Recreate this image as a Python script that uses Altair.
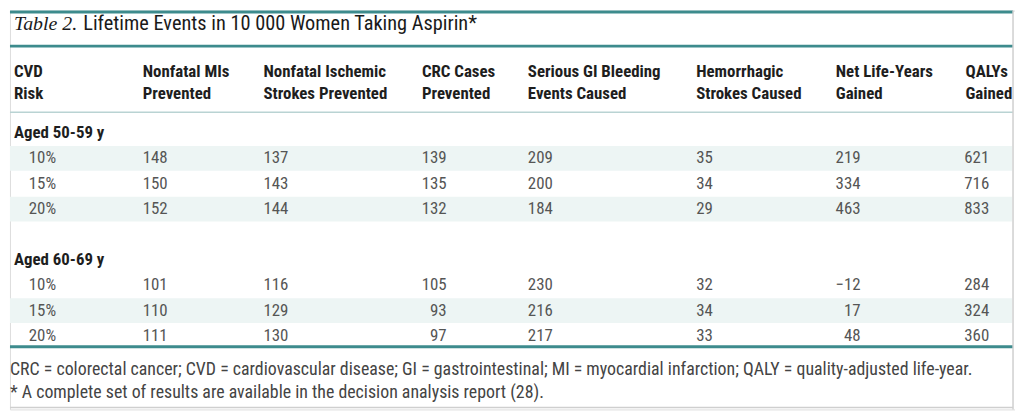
import altair as alt
import pandas as pd

# ---------------- data ----------------
title_prefix = "Table 2."
title_text = "Lifetime Events in 10 000 Women Taking Aspirin*"
headers_line1 = ["CVD", "Nonfatal MIs", "Nonfatal Ischemic", "CRC Cases", "Serious GI Bleeding",
                 "Hemorrhagic", "Net Life-Years", "QALYs"]
headers_line2 = ["Risk", "Prevented", "Strokes Prevented", "Prevented", "Events Caused",
                 "Strokes Caused", "Gained", "Gained"]
age_groups = ["Aged 50-59 y", "Aged 60-69 y"]
cvd_risk = ["10%", "15%", "20%"]
nonfatal_mi = [148, 150, 152, 101, 110, 111]
ischemic_strokes = [137, 143, 144, 116, 129, 130]
crc_cases = [139, 135, 132, 105, 93, 97]
gi_bleeding = [209, 200, 184, 230, 216, 217]
hemorrhagic = [35, 34, 29, 32, 34, 33]
net_life_years = [219, 334, 463, -12, 17, 48]
qalys = [621, 716, 833, 284, 324, 360]
footnotes = [
    "CRC = colorectal cancer; CVD = cardiovascular disease; GI = gastrointestinal; MI = myocardial infarction; QALY = quality-adjusted life-year.",
    "* A complete set of results are available in the decision analysis report (28).",
]

# ---------------- layout (reference pixel units) ----------------
X0, X1, Y0, Y1 = 8, 1023, 8, 412
col_x = [12, 142, 264, 424, 531, 701, 842, 973]        # header left edges
val_x = [27, 142, 264, 449, 531, 701, 867, 997]        # value anchors
val_align = ["left", "left", "left", "right", "left", "left", "right", "right"]
title_y = 22
header_y = [70, 93]
body_top, body_pitch = 132, 25.7
foot_y = [372, 395]
TEAL = "#3d8b8d"
SHADE = "#edf5f4"
SANS = "Liberation Sans Narrow, Roboto Condensed, Liberation Sans"

def row_y(i):
    return body_top + body_pitch * i

series = [nonfatal_mi, ischemic_strokes, crc_cases, gi_bleeding, hemorrhagic, net_life_years, qalys]

def fmt(v):
    return ("\u2212" + str(-v)) if v < 0 else str(v)

cells = []
groups_rows = []
for g, name in enumerate(age_groups):
    base = g * 5
    groups_rows.append({"x": col_x[0], "y": row_y(base), "text": name})
    for r, risk in enumerate(cvd_risk):
        k = g * 3 + r
        yy = row_y(base + 1 + r)
        cells.append({"x": val_x[0], "y": yy, "text": risk, "align": "left"})
        for c, s in enumerate(series):
            cells.append({"x": val_x[c + 1], "y": yy, "text": fmt(s[k]), "align": val_align[c + 1]})
cells_df = pd.DataFrame(cells)
groups_df = pd.DataFrame(groups_rows)

hdr = []
for c in range(len(headers_line1)):
    hdr.append({"x": col_x[c], "y": header_y[0], "text": headers_line1[c]})
    hdr.append({"x": col_x[c], "y": header_y[1], "text": headers_line2[c]})
hdr_df = pd.DataFrame(hdr)

shaded_rows = [1, 3, 7]
bands_df = pd.DataFrame([{"x": X0, "x2": 1020, "y": row_y(i) - 12.5, "y2": row_y(i) + 12.5}
                         for i in shaded_rows])

xs = alt.Scale(domain=[X0, X1], nice=False, zero=False)
ys = alt.Scale(domain=[Y0, Y1], nice=False, zero=False, reverse=True)
X = lambda f="x": alt.X(f"{f}:Q", scale=xs, axis=None)
Y = lambda f="y": alt.Y(f"{f}:Q", scale=ys, axis=None)

bands = alt.Chart(bands_df).mark_rect(color=SHADE).encode(
    x=X(), x2="x2:Q", y=Y(), y2="y2:Q")

def hrule(yv, color, width, x0=X0, x1=1021):
    return alt.Chart(pd.DataFrame({"x": [x0], "x2": [x1], "y": [yv]})).mark_rule(
        color=color, strokeWidth=width).encode(x=X(), x2="x2:Q", y=Y())

rules = [
    hrule(9.5, TEAL, 3),
    hrule(44, TEAL, 3),
    hrule(111, "#b9d3d3", 1.5),
    hrule(348.5, TEAL, 3),
    hrule(410, "#cfcfcf", 1.5),
]
vrule = alt.Chart(pd.DataFrame({"x": [1021], "y": [Y0], "y2": [Y1]})).mark_rule(
    color="#cfcfcf", strokeWidth=1.5).encode(x=X(), y=Y(), y2="y2:Q")

title1 = alt.Chart(pd.DataFrame({"x": [12], "y": [title_y], "text": [title_prefix]})).mark_text(
    align="left", baseline="middle", font="Liberation Serif", fontStyle="italic",
    fontSize=20, color="#1a1a1a").encode(x=X(), y=Y(), text="text:N")
title2 = alt.Chart(pd.DataFrame({"x": [82], "y": [title_y], "text": [title_text]})).mark_text(
    align="left", baseline="middle", font=SANS, fontSize=20.5, color="#1a1a1a").encode(
    x=X(), y=Y(), text="text:N")

headers = alt.Chart(hdr_df).mark_text(
    align="left", baseline="middle", font=SANS, fontWeight="bold", fontSize=17,
    color="#1e1e1e").encode(x=X(), y=Y(), text="text:N")
groups_t = alt.Chart(groups_df).mark_text(
    align="left", baseline="middle", font=SANS, fontWeight="bold", fontSize=17,
    color="#1e1e1e").encode(x=X(), y=Y(), text="text:N")

left_cells = alt.Chart(cells_df[cells_df["align"] == "left"]).mark_text(
    align="left", baseline="middle", font=SANS, fontSize=17, color="#555555").encode(
    x=X(), y=Y(), text="text:N")
right_cells = alt.Chart(cells_df[cells_df["align"] == "right"]).mark_text(
    align="right", baseline="middle", font=SANS, fontSize=17, color="#555555").encode(
    x=X(), y=Y(), text="text:N")

foot = alt.Chart(pd.DataFrame({"x": [X0, X0], "y": foot_y, "text": footnotes})).mark_text(
    align="left", baseline="middle", font=SANS, fontSize=18, color="#444444").encode(
    x=X(), y=Y(), text="text:N")

chart = alt.layer(bands, *rules, vrule, title1, title2, headers, groups_t,
                  left_cells, right_cells, foot).properties(
    width=1015, height=404,
    autosize=alt.AutoSizeParams(type="fit", contains="padding"),
    padding=0,
).configure_view(stroke=None).configure(background="white")

chart.save("out.html", embed_options={"renderer": "svg", "actions": False})
